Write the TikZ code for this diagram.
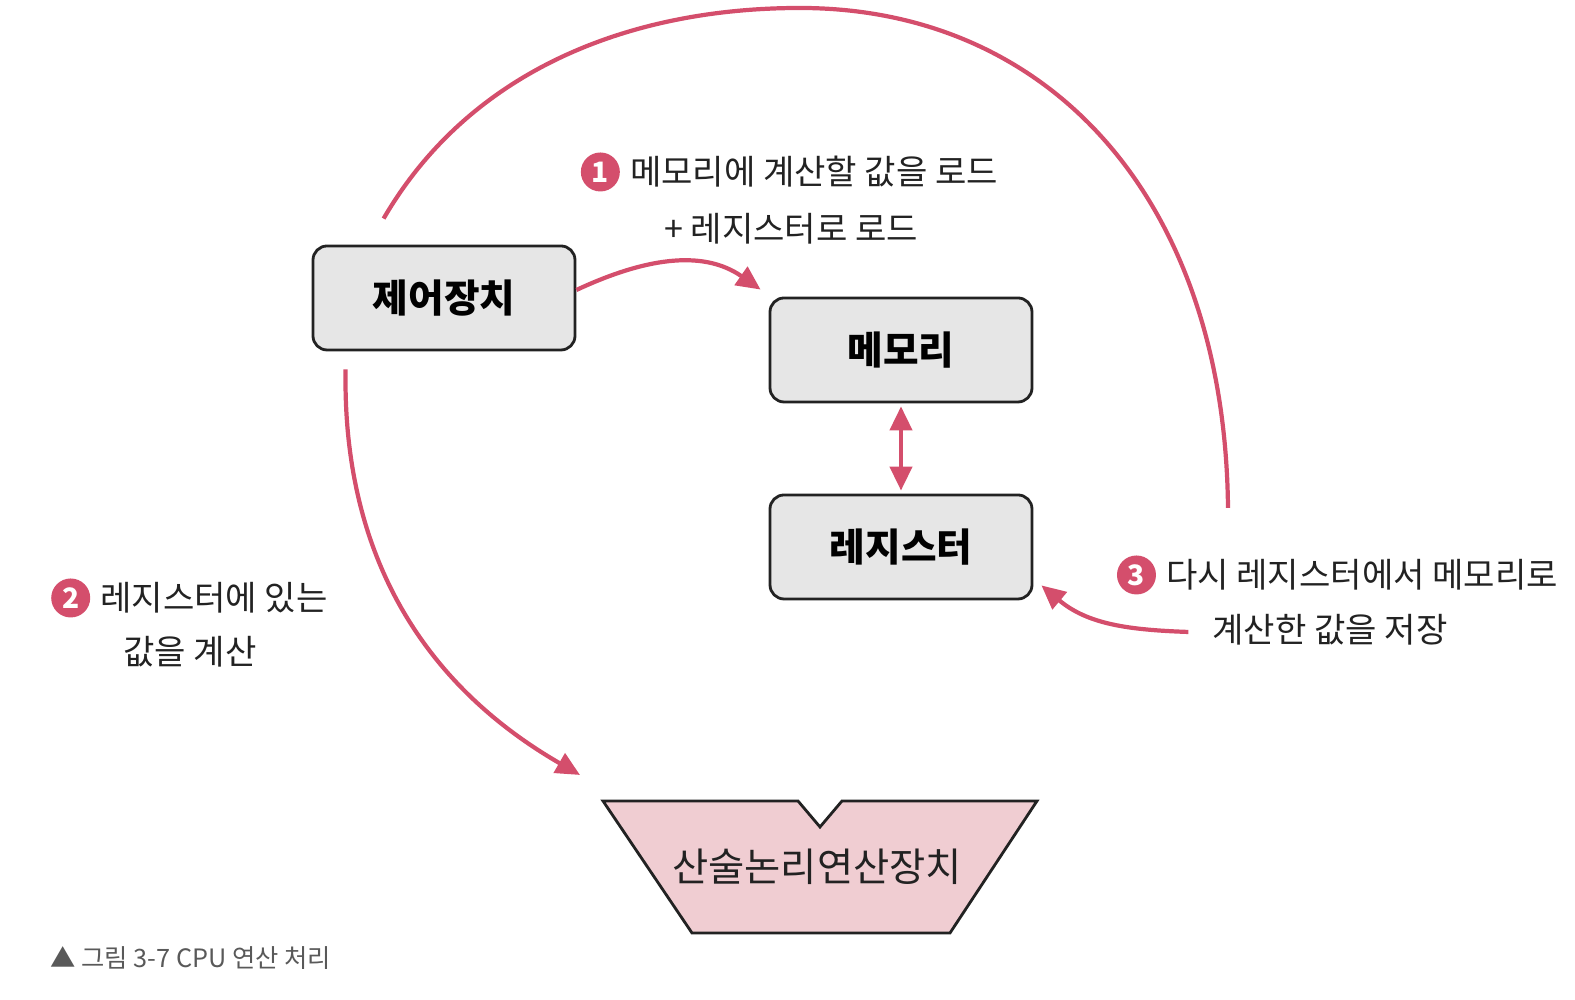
\documentclass[tikz,border=0pt]{standalone}
\usepackage{fontspec}
\setmainfont{Noto Sans CJK KR}
\newfontfamily\capfont{Noto Sans CJK KR}
\usetikzlibrary{positioning,arrows.meta}
\definecolor{arrowpink}{RGB}{212,78,108}
\definecolor{alupink}{RGB}{240,205,210}
\definecolor{boxgray}{RGB}{230,230,230}
\definecolor{edgedark}{RGB}{34,34,34}
\tikzstyle{unitbox} = [draw=edgedark, fill=boxgray, line width=0.8pt,
    rectangle, rounded corners=4pt, minimum width=2.62cm, minimum height=1.04cm,
    font=\fontsize{11}{13}\selectfont\bfseries]
\tikzstyle{flow} = [draw=arrowpink, line width=1.2pt,
    -{Triangle[length=0.24cm,width=0.22cm]}]
\tikzstyle{bothflow} = [draw=arrowpink, line width=1.2pt,
    {Triangle[length=0.24cm,width=0.22cm]}-{Triangle[length=0.24cm,width=0.22cm]}]
\tikzstyle{note} = [font=\fontsize{9.7}{11}\selectfont, text=edgedark, inner sep=1pt]
\tikzstyle{badge} = [circle, fill=arrowpink, text=white, minimum size=0.39cm,
    inner sep=0pt, font=\fontsize{8}{8}\selectfont\bfseries]

\begin{document}
\begin{tikzpicture}
\useasboundingbox (0,0) rectangle (15.75,10);

\node[unitbox] (ctrl) at (4.44,7.02) {제어장치};
\node[unitbox] (mem) at (9.01,6.50) {메모리};
\node[unitbox] (reg) at (9.01,4.53) {레지스터};

\draw[draw=edgedark, fill=alupink, line width=0.8pt]
  (6.03,1.99) -- (7.98,1.99) -- (8.20,1.73) -- (8.42,1.99) -- (10.37,1.99)
  -- (9.50,0.67) -- (6.92,0.67) -- cycle;
\node[font=\fontsize{11.2}{13}\selectfont, text=edgedark] (alu) at (8.17,1.33) {산술논리연산장치};

\node[note] (t1a) at (8.14,8.28) {메모리에 계산할 값을 로드};
\node[badge, left=1.5pt of t1a] (b1) {1};
\node[note] (t1b) at (7.91,7.71) {+ 레지스터로 로드};

\node[note] (t2a) at (2.14,4.02) {레지스터에 있는};
\node[badge, left=1.5pt of t2a] (b2) {2};
\node[note] (t2b) at (1.90,3.48) {값을 계산};

\node[note] (t3a) at (13.62,4.25) {다시 레지스터에서 메모리로};
\node[badge, left=1.5pt of t3a] (b3) {3};
\node[note] (t3b) at (13.30,3.70) {계산한 값을 저장};

\coordinate (aluin) at (5.80,2.25);
\coordinate (arcstart) at ([xshift=0.72cm,yshift=0.26cm]ctrl.north west);
\coordinate (arctop) at (8.00,9.92);
\coordinate (arcend) at (12.28,4.92);

\draw[flow] ([yshift=0.08cm]ctrl.east) to[out=25,in=145] ([xshift=-0.08cm,yshift=0.07cm]mem.north west);
\draw[bothflow] ([yshift=-0.03cm]mem.south) -- ([yshift=0.03cm]reg.north);
\draw[flow] ([xshift=0.34cm,yshift=-0.18cm]ctrl.south west) to[out=-91,in=150] (aluin);
\draw[flow] ([xshift=-0.2cm,yshift=-0.02cm]t3b.west) to[out=178,in=-40] ([xshift=0.08cm,yshift=0.15cm]reg.south east);
\draw[draw=arrowpink, line width=1.2pt] (arcstart) .. controls (4.70,9.30) and (6.30,9.92) .. (arctop)
  .. controls (10.50,9.92) and (12.25,8.00) .. (arcend);

\node[anchor=west, text=black!65, font=\capfont\fontsize{7.2}{8}\selectfont] (caption) at (0.38,0.42) {▲ 그림 3-7 CPU 연산 처리};
\end{tikzpicture}
\end{document}
